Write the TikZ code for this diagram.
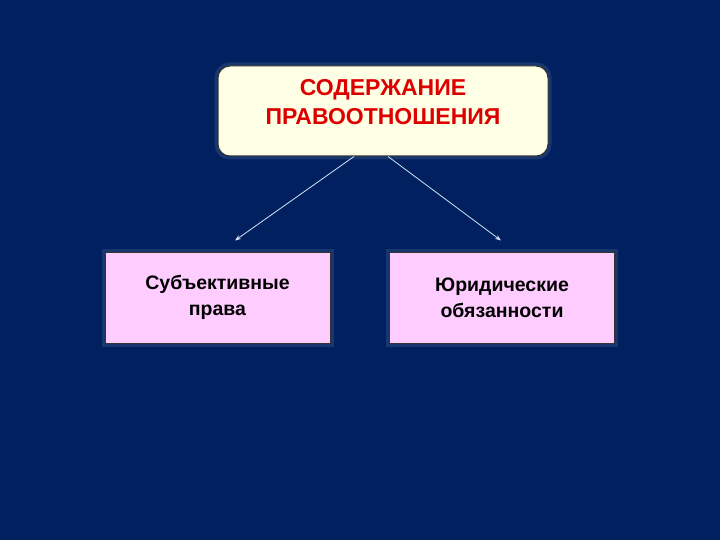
\documentclass[tikz,border=0pt]{standalone}
\usepackage{fontspec}
\setmainfont{Liberation Sans}
\usetikzlibrary{arrows.meta}
\definecolor{fonblue}{RGB}{0,32,96}
\definecolor{cream}{RGB}{255,255,229}
\definecolor{pinkbox}{RGB}{255,204,255}
\definecolor{titlered}{RGB}{220,0,0}
\definecolor{arrowblue}{RGB}{210,225,245}
\begin{document}
\begin{tikzpicture}[x=1pt, y=-1pt,
  halo/.style = {draw=white!50!fonblue, line width=4pt, draw opacity=0.2},
  subbox/.style = {shape=rectangle, draw=black!80, line width=1pt, fill=pinkbox, minimum width=225pt, minimum height=91pt, align=center, font=\bfseries\fontsize{19.5}{26}\selectfont, text=black},
  arrow/.style = {draw=arrowblue, line width=0.8pt, -{Stealth[length=6pt,width=4.5pt]}}]
% background
\fill[fonblue] (0,0) rectangle (720,540);
\useasboundingbox (0,0) rectangle (720,540);

% Content of the relation
\node[halo, rounded corners=13pt, minimum width=333pt, minimum height=93pt] (kontenthalo) at (383,111) {};
\node[shape=rectangle, rounded corners=12pt, draw=black!80, line width=1pt, fill=cream, minimum width=330pt, minimum height=90pt,
  label={[name=kontenttext, align=center, text=titlered, font=\bfseries\fontsize{23}{29}\selectfont, yshift=9pt]center:СОДЕРЖАНИЕ\\ПРАВООТНОШЕНИЯ}] (kontent) at (383,111) {};

% Subjective rights
\node[halo, minimum width=228pt, minimum height=94pt] (pravahalo) at (217.5,297.5) {};
\node[subbox] (prava) at (217.5,297.5) {Субъективные\\права};

% Legal duties
\node[halo, minimum width=228pt, minimum height=94pt] (obyazhalo) at (502,297.5) {};
\node[subbox] (obyaz) at (502,297.5) {Юридические\\обязанности};

% arrows
\draw[arrow] ([xshift=-29pt]kontent.south) -- ([xshift=17.5pt, yshift=11pt]prava.north);
\draw[arrow] ([xshift=5pt]kontent.south) -- ([xshift=-1pt, yshift=11pt]obyaz.north);
\end{tikzpicture}
\end{document}
